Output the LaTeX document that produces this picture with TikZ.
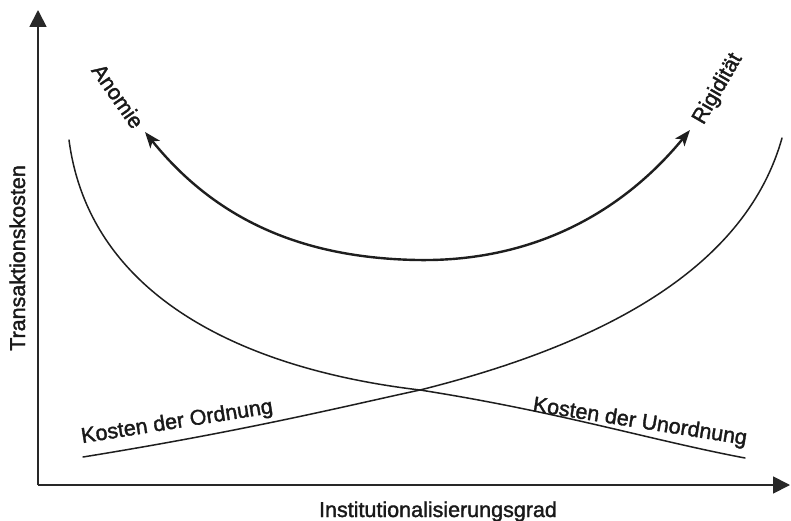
\documentclass[tikz,border=0pt]{standalone}
\usepackage{fontspec}
\setmainfont{Liberation Sans}
\newfontfamily\lblfont[FakeBold=1.6]{Liberation Sans}
\usetikzlibrary{arrows.meta}
\tikzset{
  lbl/.style={inner sep=0pt,outer sep=0pt,text={rgb,255:red,25;green,25;blue,25},font=\lblfont\fontsize{21.5}{25}\selectfont},
  axis/.style={draw={rgb,255:red,40;green,40;blue,40},line width=1.8pt,-{Triangle[length=17pt,width=17pt]}},
  cost/.style={draw={rgb,255:red,30;green,30;blue,30},line width=1.5pt,line cap=round},
  swing/.style={draw={rgb,255:red,30;green,30;blue,30},line width=2.4pt,{Stealth[length=16pt,width=12pt,inset=4pt]}-{Stealth[length=16pt,width=12pt,inset=4pt]}}
}
\begin{document}
\begin{tikzpicture}[x=1pt,y=-1pt]
\path[use as bounding box] (0,0) rectangle (791,521);
\path[fill=white,draw=none] (0,0) rectangle (791,521);
% axes
\coordinate (origin) at (38,485);
\coordinate (ytip) at (38,10);
\coordinate (xtip) at (790,485);
\draw[axis] (origin) -- (ytip);
\draw[axis] (origin) -- (xtip);
\node[lbl,anchor=base] (xlabel) at (438,517) {Institutionalisierungsgrad};
\node[lbl,anchor=base,rotate=90] (ylabel) at (25,258) {Transaktionskosten};
% cost curves
\coordinate (unStart) at (69,140);
\coordinate (cross) at (420,390);
\coordinate (unEnd) at (745,458);
\coordinate (orStart) at (83,457);
\coordinate (orEnd) at (782,138);
\draw[cost] (unStart) .. controls (90,300) and (250,370) .. (cross) .. controls (560,412) and (650,440) .. (unEnd);
\draw[cost] (orStart) .. controls (250,430) and (350,405) .. (cross) .. controls (600,345) and (745,270) .. (orEnd);
\node[lbl,anchor=base,rotate=9] (ordnung) at (178,428) {Kosten der Ordnung};
\node[lbl,anchor=base,rotate=-9] (unordnung) at (639,428) {Kosten der Unordnung};
% swing between the two extremes
\coordinate (anTip) at (145,132);
\coordinate (bottom) at (417,260);
\coordinate (riTip) at (690,130);
\draw[swing] (anTip) .. controls (220,225) and (310,258) .. (bottom) .. controls (530,262) and (620,215) .. (riTip);
\node[lbl,rotate=-55] (anomie) at (118,96) {Anomie};
\node[lbl,rotate=60] (rigiditaet) at (718,89) {Rigidität};
\end{tikzpicture}
\end{document}
